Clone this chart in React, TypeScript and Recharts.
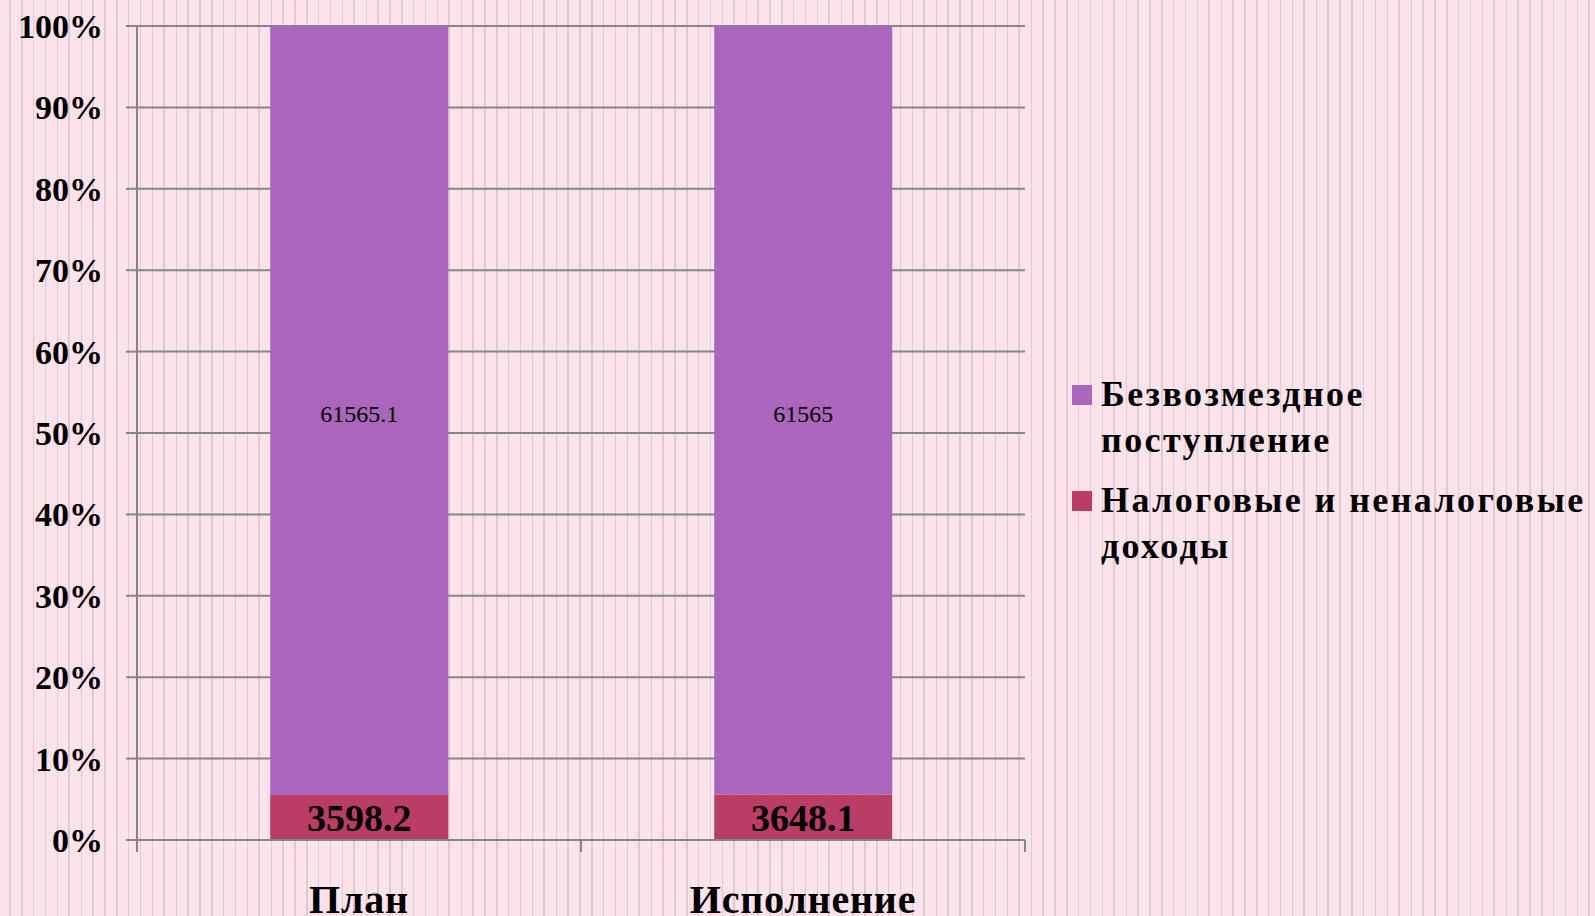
import { Bar, BarChart, CartesianGrid, LabelList, Legend, XAxis, YAxis } from "recharts";

const categories = ["План", "Исполнение"];
const taxIncome = [3598.2, 3648.1];
const grants = [61565.1, 61565];
const seriesNames = ["Налоговые и неналоговые\nдоходы", "Безвозмездное\nпоступление"];
const seriesColors = ["#b93d66", "#aa66bb"];
const yTicks = [0, 0.1, 0.2, 0.3, 0.4, 0.5, 0.6, 0.7, 0.8, 0.9, 1];

const data = categories.map((name, i) => ({ name, tax: taxIncome[i], grant: grants[i] }));

const FONT = "'Liberation Serif', 'DejaVu Serif', serif";
const AXIS = "#868686";
const TICK_SIZE = 12;
const TICK_MARGIN = 32;
const BG = "#fce2eb";
const STRIPE = "#dfcad3";

function CategoryTick(props: any) {
  const { x, y, payload, width, visibleTicksCount, index } = props;
  const half = payload?.offset ?? width / visibleTicksCount / 2;
  const axisY = y - TICK_SIZE - TICK_MARGIN;
  const last = index === visibleTicksCount - 1;
  return (
    <g>
      <line x1={x - half} x2={x - half} y1={axisY} y2={axisY + TICK_SIZE} stroke={AXIS} strokeWidth={2} />
      {last && <line x1={x + half} x2={x + half} y1={axisY} y2={axisY + TICK_SIZE} stroke={AXIS} strokeWidth={2} />}
      <text
        x={x}
        y={y + 29}
        textAnchor="middle"
        fontFamily={FONT}
        fontWeight={700}
        fontSize={40}
        letterSpacing={0.8}
        fill="#000"
      >
        {payload.value}
      </text>
    </g>
  );
}

function LegendBox() {
  const order = [1, 0];
  return (
    <div style={{ fontFamily: FONT, fontWeight: 700, fontSize: 36, lineHeight: "46px", letterSpacing: 2.4, color: "#000" }}>
      {order.map((i) => (
        <div key={i} style={{ display: "flex", alignItems: "flex-start", marginBottom: 14 }}>
          <span style={{ width: 20, height: 20, background: seriesColors[i], marginTop: 14, marginRight: 9, flex: "none" }} />
          <span style={{ whiteSpace: "pre-line" }}>{seriesNames[i]}</span>
        </div>
      ))}
    </div>
  );
}

export default function App() {
  return (
    <div
      style={{
        position: "absolute",
        left: 0,
        top: 0,
        width: 1595,
        height: 916,
        overflow: "hidden",
        background: `repeating-linear-gradient(90deg, ${BG} 0px, ${BG} 9.5px, ${STRIPE} 9.5px, ${STRIPE} 10.7px, ${BG} 10.7px, ${BG} 20.8px, ${STRIPE} 20.8px, ${STRIPE} 22.6px, ${BG} 22.6px, ${BG} 23.75px)`,
      }}
    >
      <BarChart
        width={1595}
        height={916}
        data={data}
        stackOffset="expand"
        barCategoryGap="30%"
        margin={{ top: 26, right: 570, bottom: 0, left: 0 }}
      >
        <CartesianGrid vertical={false} stroke={AXIS} strokeWidth={2} />
        <XAxis
          dataKey="name"
          height={76}
          tickSize={TICK_SIZE}
          tickMargin={TICK_MARGIN}
          tickLine={false}
          axisLine={{ stroke: AXIS, strokeWidth: 2 }}
          tick={<CategoryTick />}
          interval={0}
        />
        <YAxis
          width={137}
          domain={[0, 1]}
          ticks={yTicks}
          tickSize={11}
          tickMargin={23}
          axisLine={{ stroke: AXIS, strokeWidth: 2 }}
          tickLine={{ stroke: AXIS, strokeWidth: 2 }}
          tickFormatter={(v: number) => `${Math.round(v * 100)}%`}
          tick={{ fill: "#000", fontFamily: FONT, fontWeight: 700, fontSize: 34 }}
        />
        <Legend
          layout="vertical"
          align="center"
          verticalAlign="middle"
          content={() => <LegendBox />}
          wrapperStyle={{ left: 1072, top: 371, width: 523 }}
        />
        <Bar dataKey="tax" stackId="a" fill={seriesColors[0]} name={seriesNames[0]} isAnimationActive={false}>
          <LabelList dataKey="tax" position="center" fill="#000" fontFamily={FONT} fontWeight={700} fontSize={38} />
        </Bar>
        <Bar dataKey="grant" stackId="a" fill={seriesColors[1]} name={seriesNames[1]} isAnimationActive={false}>
          <LabelList dataKey="grant" position="center" fill="#000" fontFamily={FONT} fontSize={24} dy={3} />
        </Bar>
      </BarChart>
    </div>
  );
}
